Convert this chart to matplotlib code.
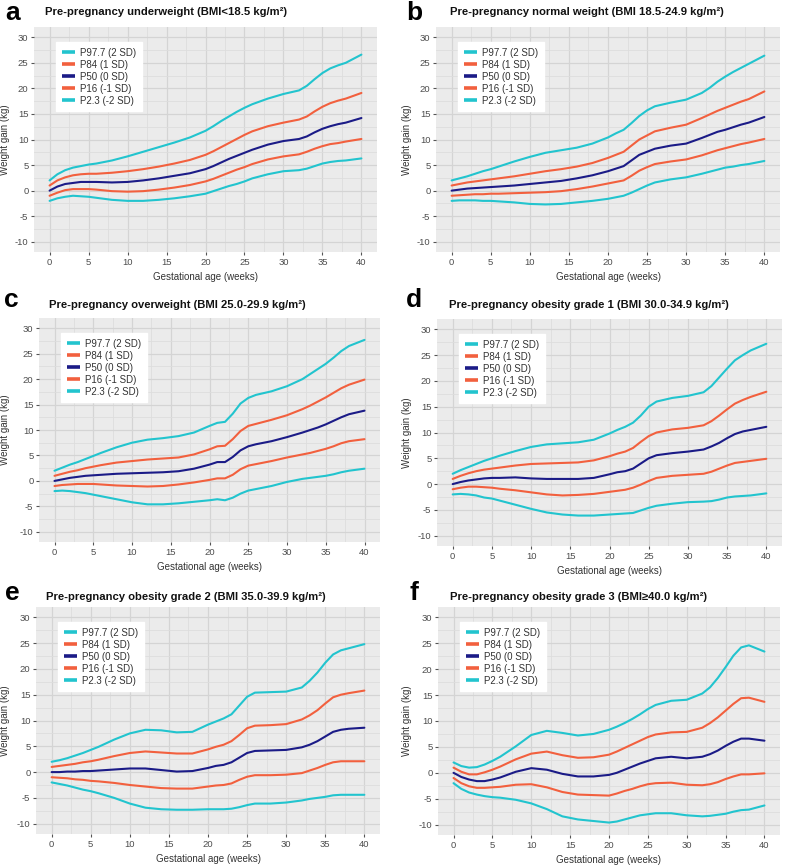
import matplotlib
matplotlib.use("Agg")
import matplotlib.pyplot as plt
from matplotlib.ticker import MultipleLocator

plt.rcParams['font.family'] = ['Liberation Sans', 'DejaVu Sans']
plt.rcParams['axes.unicode_minus'] = False

WEEKS = [0, 1, 2, 3, 4, 5, 6, 8, 10, 12, 14, 16, 18, 20, 21, 22, 23, 24, 25, 26,
         28, 30, 32, 33, 34, 35, 36, 37, 38, 40]

SERIES_LABELS = ["P97.7 (2 SD)", "P84 (1 SD)", "P50 (0 SD)", "P16 (-1 SD)", "P2.3 (-2 SD)"]
SERIES_COLORS = ["#22C4CE", "#F2603E", "#1B1B87", "#F2603E", "#22C4CE"]

PANEL_LETTERS = ["a", "b", "c", "d", "e", "f"]
PANEL_TITLES = [
    "Pre-pregnancy underweight (BMI<18.5 kg/m\u00b2)",
    "Pre-pregnancy normal weight (BMI 18.5-24.9 kg/m\u00b2)",
    "Pre-pregnancy overweight (BMI 25.0-29.9 kg/m\u00b2)",
    "Pre-pregnancy obesity grade 1 (BMI 30.0-34.9 kg/m\u00b2)",
    "Pre-pregnancy obesity grade 2 (BMI 35.0-39.9 kg/m\u00b2)",
    "Pre-pregnancy obesity grade 3 (BMI\u226540.0 kg/m\u00b2)",
]

# Panel a: underweight
A_P977 = [2.0, 3.2, 4.0, 4.5, 4.8, 5.1, 5.3, 5.9, 6.7, 7.6, 8.5, 9.4, 10.4, 11.7, 12.6, 13.6, 14.5, 15.4, 16.2, 16.9, 18.0, 18.9, 19.6, 20.5, 21.8, 23.0, 23.9, 24.5, 25.0, 26.6]
A_P84 = [1.0, 2.0, 2.6, 3.0, 3.2, 3.3, 3.3, 3.5, 3.8, 4.2, 4.7, 5.3, 6.0, 7.0, 7.7, 8.5, 9.3, 10.1, 10.9, 11.6, 12.6, 13.3, 13.9, 14.5, 15.5, 16.4, 17.1, 17.6, 18.0, 19.1]
A_P50 = [0.0, 0.8, 1.3, 1.5, 1.7, 1.7, 1.7, 1.6, 1.7, 2.0, 2.4, 2.9, 3.4, 4.2, 4.8, 5.5, 6.2, 6.8, 7.4, 8.0, 9.0, 9.7, 10.1, 10.6, 11.4, 12.1, 12.6, 13.0, 13.3, 14.2]
A_P16 = [-1.0, -0.4, 0.1, 0.3, 0.3, 0.3, 0.2, -0.1, -0.2, -0.1, 0.2, 0.6, 1.1, 1.8, 2.3, 2.9, 3.5, 4.1, 4.6, 5.2, 6.1, 6.7, 7.1, 7.6, 8.2, 8.7, 9.1, 9.3, 9.6, 10.1]
A_P23 = [-2.0, -1.5, -1.2, -1.0, -1.1, -1.2, -1.4, -1.8, -2.0, -2.0, -1.8, -1.5, -1.1, -0.6, -0.1, 0.4, 0.9, 1.3, 1.8, 2.4, 3.2, 3.8, 4.0, 4.3, 4.8, 5.3, 5.6, 5.8, 5.9, 6.3]

# Panel b: normal weight
B_P977 = [2.0, 2.4, 2.8, 3.3, 3.8, 4.2, 4.7, 5.7, 6.6, 7.4, 7.9, 8.4, 9.2, 10.4, 11.2, 11.9, 13.2, 14.6, 15.7, 16.5, 17.2, 17.8, 19.1, 20.1, 21.3, 22.3, 23.2, 24.0, 24.8, 26.4]
B_P84 = [1.0, 1.3, 1.6, 1.8, 2.0, 2.2, 2.4, 2.8, 3.3, 3.8, 4.2, 4.7, 5.4, 6.4, 7.0, 7.6, 8.8, 10.0, 10.8, 11.6, 12.3, 12.9, 14.2, 14.9, 15.6, 16.2, 16.8, 17.4, 17.9, 19.4]
B_P50 = [0.0, 0.2, 0.4, 0.5, 0.6, 0.7, 0.8, 1.0, 1.3, 1.6, 1.9, 2.4, 3.0, 3.8, 4.3, 4.8, 5.9, 7.0, 7.6, 8.2, 8.8, 9.2, 10.3, 10.9, 11.5, 11.9, 12.4, 12.9, 13.3, 14.4]
B_P16 = [-1.0, -0.9, -0.8, -0.7, -0.7, -0.6, -0.6, -0.5, -0.4, -0.3, -0.1, 0.3, 0.8, 1.4, 1.7, 2.0, 2.9, 3.9, 4.6, 5.2, 5.7, 6.1, 6.9, 7.4, 7.9, 8.3, 8.7, 9.1, 9.4, 10.1]
B_P23 = [-2.0, -1.9, -1.9, -1.9, -2.0, -2.0, -2.1, -2.3, -2.6, -2.7, -2.6, -2.3, -2.0, -1.6, -1.3, -1.0, -0.4, 0.3, 1.0, 1.6, 2.2, 2.6, 3.3, 3.7, 4.1, 4.5, 4.7, 5.0, 5.2, 5.8]

# Panel c: overweight
C_P977 = [2.0, 2.6, 3.2, 3.7, 4.3, 4.9, 5.5, 6.6, 7.5, 8.1, 8.4, 8.8, 9.5, 10.8, 11.4, 11.6, 13.2, 15.2, 16.3, 16.9, 17.6, 18.6, 20.0, 21.0, 22.0, 23.0, 24.2, 25.5, 26.5, 27.7]
C_P84 = [1.0, 1.4, 1.8, 2.1, 2.5, 2.8, 3.1, 3.6, 3.9, 4.2, 4.4, 4.6, 5.2, 6.2, 6.8, 6.9, 8.2, 9.8, 10.8, 11.2, 12.0, 12.9, 14.1, 14.8, 15.6, 16.4, 17.3, 18.2, 18.9, 19.9]
C_P50 = [0.0, 0.3, 0.6, 0.8, 1.0, 1.1, 1.2, 1.4, 1.5, 1.6, 1.7, 1.9, 2.4, 3.2, 3.7, 3.7, 4.7, 6.0, 6.8, 7.2, 7.8, 8.6, 9.5, 10.0, 10.5, 11.1, 11.8, 12.5, 13.1, 13.8]
C_P16 = [-1.0, -0.8, -0.7, -0.6, -0.6, -0.6, -0.7, -0.9, -1.0, -1.1, -1.0, -0.7, -0.3, 0.2, 0.5, 0.5, 1.2, 2.3, 3.0, 3.3, 3.9, 4.6, 5.2, 5.5, 5.9, 6.3, 6.8, 7.4, 7.8, 8.2]
C_P23 = [-2.0, -1.9, -2.0, -2.2, -2.4, -2.7, -3.0, -3.6, -4.2, -4.6, -4.6, -4.4, -4.1, -3.8, -3.6, -3.8, -3.3, -2.5, -1.9, -1.6, -1.0, -0.2, 0.4, 0.6, 0.8, 1.0, 1.3, 1.7, 2.0, 2.4]

# Panel d: obesity grade 1
D_P977 = [2.0, 2.7, 3.3, 3.9, 4.5, 5.0, 5.5, 6.4, 7.2, 7.7, 7.9, 8.1, 8.6, 9.8, 10.5, 11.1, 11.9, 13.3, 15.0, 16.0, 16.7, 17.1, 17.8, 19.0, 20.7, 22.4, 24.0, 25.0, 25.9, 27.2]
D_P84 = [1.0, 1.6, 2.1, 2.5, 2.8, 3.0, 3.2, 3.6, 3.9, 4.0, 4.1, 4.2, 4.6, 5.4, 5.9, 6.3, 7.0, 8.2, 9.3, 10.0, 10.6, 10.9, 11.4, 12.2, 13.3, 14.5, 15.6, 16.3, 16.9, 17.9]
D_P50 = [0.0, 0.4, 0.7, 0.9, 1.1, 1.2, 1.2, 1.3, 1.1, 1.0, 1.0, 1.0, 1.2, 1.9, 2.3, 2.5, 3.0, 4.0, 5.0, 5.6, 6.0, 6.3, 6.7, 7.3, 8.0, 8.9, 9.7, 10.2, 10.5, 11.1]
D_P16 = [-1.0, -0.7, -0.5, -0.5, -0.6, -0.7, -0.9, -1.2, -1.6, -2.0, -2.2, -2.1, -1.9, -1.5, -1.3, -1.1, -0.7, -0.1, 0.6, 1.2, 1.6, 1.8, 2.0, 2.4, 3.0, 3.6, 4.1, 4.3, 4.5, 4.9]
D_P23 = [-2.0, -1.9, -2.0, -2.2, -2.6, -2.8, -3.2, -4.0, -4.8, -5.5, -5.9, -6.1, -6.1, -5.9, -5.8, -5.7, -5.6, -5.1, -4.6, -4.2, -3.8, -3.5, -3.4, -3.3, -3.0, -2.6, -2.4, -2.3, -2.2, -1.8]

# Panel e: obesity grade 2
E_P977 = [2.0, 2.3, 2.7, 3.2, 3.7, 4.3, 4.9, 6.3, 7.5, 8.2, 8.1, 7.7, 7.8, 9.2, 9.8, 10.4, 11.2, 12.9, 14.6, 15.4, 15.5, 15.6, 16.4, 17.7, 19.3, 21.2, 22.8, 23.6, 24.0, 24.8]
E_P84 = [1.0, 1.2, 1.4, 1.6, 1.9, 2.1, 2.4, 3.1, 3.7, 4.0, 3.8, 3.6, 3.6, 4.4, 4.9, 5.3, 6.0, 7.2, 8.5, 9.0, 9.1, 9.3, 10.2, 11.0, 12.0, 13.3, 14.5, 15.0, 15.3, 15.8]
E_P50 = [0.0, 0.0, 0.1, 0.1, 0.2, 0.2, 0.3, 0.5, 0.7, 0.7, 0.4, 0.1, 0.2, 0.8, 1.2, 1.4, 1.9, 2.8, 3.7, 4.1, 4.2, 4.3, 4.8, 5.3, 6.0, 6.9, 7.8, 8.2, 8.4, 8.6]
E_P16 = [-1.0, -1.1, -1.2, -1.4, -1.5, -1.7, -1.8, -2.1, -2.5, -2.8, -3.1, -3.2, -3.2, -2.8, -2.6, -2.5, -2.2, -1.5, -0.9, -0.6, -0.6, -0.5, -0.2, 0.3, 0.8, 1.4, 1.9, 2.1, 2.1, 2.1]
E_P23 = [-2.0, -2.3, -2.6, -3.0, -3.4, -3.7, -4.1, -5.0, -6.1, -6.9, -7.2, -7.3, -7.3, -7.2, -7.2, -7.2, -7.1, -6.8, -6.4, -6.1, -6.1, -5.9, -5.5, -5.2, -5.0, -4.8, -4.5, -4.4, -4.4, -4.4]

# Panel f: obesity grade 3
F_P977 = [2.0, 1.3, 1.0, 1.1, 1.6, 2.3, 3.1, 5.1, 7.3, 8.1, 7.7, 7.2, 7.5, 8.3, 8.9, 9.6, 10.4, 11.3, 12.3, 13.1, 13.9, 14.1, 15.3, 16.5, 18.3, 20.4, 22.6, 24.2, 24.6, 23.4]
F_P84 = [1.0, 0.2, -0.3, -0.3, 0.1, 0.6, 1.2, 2.6, 3.7, 4.1, 3.4, 2.9, 3.0, 3.5, 4.1, 4.8, 5.5, 6.2, 6.9, 7.4, 7.8, 7.9, 8.7, 9.6, 10.7, 12.0, 13.3, 14.4, 14.5, 13.7]
F_P50 = [0.0, -0.8, -1.3, -1.6, -1.6, -1.3, -0.9, 0.2, 0.9, 0.6, -0.2, -0.7, -0.7, -0.4, 0.0, 0.6, 1.2, 1.8, 2.3, 2.8, 3.1, 2.8, 3.1, 3.6, 4.3, 5.2, 6.0, 6.6, 6.6, 6.2]
F_P16 = [-1.0, -2.0, -2.6, -2.9, -2.9, -2.8, -2.7, -2.3, -2.2, -2.8, -3.7, -4.2, -4.3, -4.4, -4.0, -3.5, -3.1, -2.6, -2.2, -2.0, -1.9, -2.3, -2.4, -2.2, -1.8, -1.2, -0.7, -0.3, -0.3, -0.1]
F_P23 = [-2.0, -3.1, -3.8, -4.2, -4.5, -4.7, -4.8, -5.2, -5.9, -7.0, -8.4, -9.0, -9.3, -9.6, -9.4, -9.0, -8.6, -8.2, -8.0, -7.8, -7.8, -8.2, -8.4, -8.3, -8.1, -7.9, -7.5, -7.2, -7.1, -6.3]

PANELS = [
    [A_P977, A_P84, A_P50, A_P16, A_P23],
    [B_P977, B_P84, B_P50, B_P16, B_P23],
    [C_P977, C_P84, C_P50, C_P16, C_P23],
    [D_P977, D_P84, D_P50, D_P16, D_P23],
    [E_P977, E_P84, E_P50, E_P16, E_P23],
    [F_P977, F_P84, F_P50, F_P16, F_P23],
]

X_TICKS = [0, 5, 10, 15, 20, 25, 30, 35, 40]
Y_TICKS = [-10, -5, 0, 5, 10, 15, 20, 25, 30]

W, H = 785, 867
fig = plt.figure(figsize=(W / 100, H / 100), dpi=100)

# axes rectangles in pixels: left, top, right, bottom
RECTS = [
    (34, 27, 377, 252),
    (436, 27, 780, 252),
    (39, 318, 380, 542),
    (437, 319, 782, 546),
    (36, 607, 380, 834),
    (438, 607, 780, 835),
]
LETTER_POS = [(5, 20), (406, 20), (4, 307), (406, 307), (5, 600), (410, 600)]
TITLE_POS = [(45, 12), (450, 12), (49, 305), (449, 305), (46, 597), (450, 597)]
YLABEL_X = [10, 412, 10, 412, 10, 412]

for i, (l, t, r, b) in enumerate(RECTS):
    w, h = r - l, b - t
    ax = fig.add_axes([l / W, 1 - b / H, w / W, h / H])
    ax.set_facecolor("#EBEBEB")
    ax.set_xlim(-2, 42)
    ax.set_ylim(-12, 32)
    ax.xaxis.set_minor_locator(MultipleLocator(2.5))
    ax.yaxis.set_minor_locator(MultipleLocator(2.5))
    ax.set_xticks(X_TICKS)
    ax.set_yticks(Y_TICKS)
    ax.grid(which="major", color="#D4D4D4", linewidth=0.9)
    ax.grid(which="minor", color="#DDDDDD", linewidth=0.6)
    ax.set_axisbelow(True)
    for s in ax.spines.values():
        s.set_visible(False)
    ax.tick_params(which="minor", length=0)
    ax.tick_params(which="major", length=2, color="#555555", labelsize=6.8,
                   labelcolor="#4D4D4D", pad=2)
    ax.set_xlabel("Gestational age (weeks)", fontsize=7, color="#333333")
    ax.xaxis.set_label_coords(0.5, -20.0 / h)
    ax.set_ylabel("Weight gain (kg)", fontsize=7, color="#333333")
    ax.yaxis.set_label_coords((YLABEL_X[i] - l) / w, 0.5)

    for vals, lab, col in zip(PANELS[i], SERIES_LABELS, SERIES_COLORS):
        ax.plot(WEEKS, vals, color=col, linewidth=1.5, label=lab, solid_capstyle="round")

    leg = ax.legend(loc="upper left", bbox_to_anchor=(22.0 / w, 1 - 15.0 / h),
                    borderaxespad=0, fontsize=7,
                    frameon=True, fancybox=False, framealpha=1, edgecolor="white",
                    handlelength=1.4, handletextpad=0.5, labelspacing=0.2,
                    borderpad=0.6)
    for line in leg.get_lines():
        line.set_linewidth(2.6)
        line.set_solid_capstyle("butt")
    for txt in leg.get_texts():
        txt.set_color("#333333")

    lx, ly = LETTER_POS[i]
    fig.text(lx / W, 1 - ly / H, PANEL_LETTERS[i], fontsize=19, fontweight="bold",
             ha="left", va="baseline")
    tx, ty = TITLE_POS[i]
    fig.text(tx / W, 1 - ty / H, PANEL_TITLES[i], fontsize=8.1, fontweight="bold",
             ha="left", va="center", color="#111111")

fig.savefig("out.png", dpi=100)
